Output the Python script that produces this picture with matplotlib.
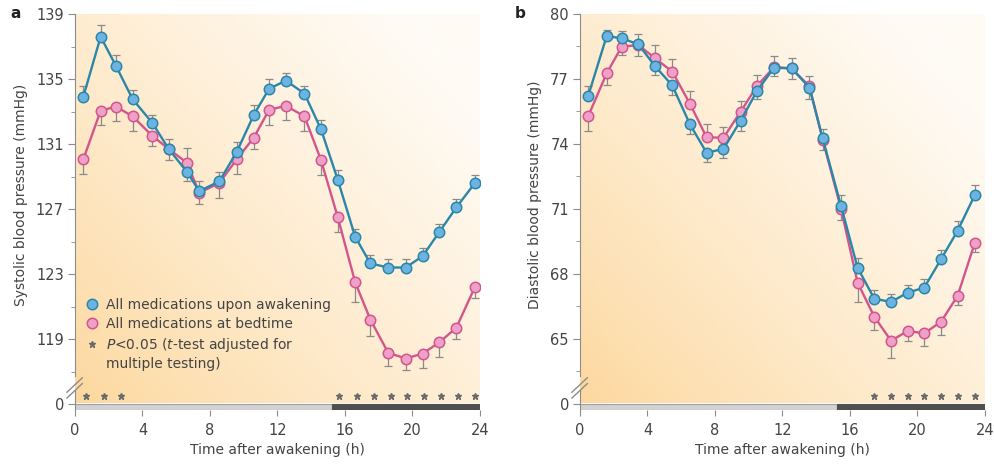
import numpy as np
import matplotlib
matplotlib.use("Agg")
from matplotlib import pyplot as plt
from matplotlib.lines import Line2D

# ---- data ----
time_a = [0.49, 1.52, 2.43, 3.42, 4.58, 5.55, 6.62, 7.37, 8.55, 9.58, 10.6, 11.5,
          12.5, 13.6, 14.58, 15.57, 16.6, 17.5, 18.56, 19.6, 20.6, 21.6, 22.6, 23.7]
sys_awake = [133.9, 137.6, 135.8, 133.75, 132.3, 130.7, 129.3, 128.1, 128.7, 130.5, 132.8, 134.4,
             134.9, 134.1, 131.9, 128.8, 125.3, 123.65, 123.4, 123.4, 124.1, 125.6, 127.1, 128.6]
sys_bed = [130.05, 133.05, 133.3, 132.7, 131.5, 130.7, 129.85, 128.0, 128.6, 130.05, 131.4, 133.1,
           133.35, 132.7, 130.0, 126.5, 122.5, 120.2, 118.15, 117.8, 118.1, 118.8, 119.7, 122.2]
sys_awake_err = [0.7, 0.7, 0.7, 0.6, 0.5, 0.6, 0.6, 0.6, 0.6, 0.6, 0.6, 0.6,
                 0.5, 0.5, 0.6, 0.6, 0.5, 0.5, 0.5, 0.5, 0.5, 0.5, 0.5, 0.5]
sys_bed_err = [0.9, 0.9, 0.9, 0.9, 0.6, 0.7, 0.9, 0.7, 0.9, 0.9, 0.7, 0.9,
               0.9, 0.9, 0.9, 0.9, 1.2, 1.0, 0.8, 0.7, 0.9, 0.9, 0.7, 0.7]
stars_a = [0.65, 1.72, 2.73, 15.66, 16.7, 17.7, 18.7, 19.7, 20.7, 21.7, 22.7, 23.7]

time_b = [0.49, 1.58, 2.47, 3.46, 4.44, 5.47, 6.52, 7.5, 8.5, 9.52, 10.5, 11.5,
          12.54, 13.6, 14.38, 15.47, 16.45, 17.44, 18.43, 19.42, 20.4, 21.4, 22.38, 23.4]
dia_awake = [76.23, 78.98, 78.88, 78.6, 77.6, 76.7, 74.9, 73.6, 73.77, 75.08, 76.46, 77.52,
             77.49, 76.6, 74.26, 71.14, 68.29, 66.86, 66.71, 67.14, 67.37, 68.69, 70.0, 71.65]
dia_bed = [75.29, 77.26, 78.49, 78.57, 77.96, 77.34, 75.85, 74.31, 74.29, 75.49, 76.69, 77.55,
           77.49, 76.66, 74.2, 71.0, 67.6, 66.03, 64.92, 65.37, 65.26, 65.8, 67.0, 69.45]
dia_awake_err = [0.45, 0.3, 0.35, 0.5, 0.4, 0.45, 0.45, 0.45, 0.4, 0.5, 0.4, 0.4,
                 0.5, 0.5, 0.45, 0.5, 0.45, 0.4, 0.35, 0.35, 0.4, 0.4, 0.45, 0.45]
dia_bed_err = [0.7, 0.55, 0.4, 0.5, 0.6, 0.6, 0.6, 0.6, 0.5, 0.5, 0.5, 0.5,
               0.5, 0.5, 0.5, 0.5, 0.9, 0.6, 0.8, 0.45, 0.6, 0.6, 0.45, 0.45]
stars_b = [17.44, 18.43, 19.42, 20.4, 21.4, 22.38, 23.4]

day_end = 15.25
xticks = [0, 4, 8, 12, 16, 20, 24]

BLUE_FILL, BLUE_LINE = "#6db3e2", "#2a87a8"
PINK_FILL, PINK_LINE = "#eea0c8", "#d2558c"
GREY_TXT = "#444444"
AX_COL = "#8c8c8c"

plt.rcParams["font.family"] = ["DejaVu Sans"]
plt.rcParams["font.size"] = 10

W, H = 995, 465
fig = plt.figure(figsize=(W / 100, H / 100), dpi=100)


def fx(px):
    return px / W


def fy(px):
    return 1 - px / H


def gradient_bg(x0):
    bg = fig.add_axes([fx(x0), fy(403), fx(405), (403 - 14) / H], zorder=0)
    gx, gy = np.meshgrid(np.linspace(0, 1, 200), np.linspace(0, 1, 200))
    t = np.clip((gx * 0.9 + gy * 0.8) / 1.5, 0, 1) ** 0.8
    c0 = np.array([253, 215, 156]) / 255
    c1 = np.array([255, 251, 245]) / 255
    img = c0[None, None, :] * (1 - t[..., None]) + c1[None, None, :] * t[..., None]
    bg.imshow(img, origin="lower", aspect="auto", extent=[0, 1, 0, 1])
    bg.set_axis_off()


def panel(x0, t, awake, bed, awake_err, bed_err, stars, ylim, yticks, minor,
          ylabel, letter, legend=False):
    gradient_bg(x0)
    ax = fig.add_axes([fx(x0), fy(376), fx(405), 362 / H], zorder=2)
    ax.patch.set_alpha(0)
    strip = fig.add_axes([fx(x0), fy(410), fx(405), 20 / H], zorder=2)
    strip.patch.set_alpha(0)

    awake = np.array(awake)
    bed = np.array(bed)
    up = awake >= bed
    a_err = [np.where(up, 0, awake_err), np.where(up, awake_err, 0)]
    b_err = [np.where(up, bed_err, 0), np.where(up, 0, bed_err)]

    ax.errorbar(t, bed, yerr=b_err, fmt="none", ecolor="#8a8a8a", elinewidth=0.9,
                capsize=3, capthick=0.9, zorder=3)
    ax.errorbar(t, awake, yerr=a_err, fmt="none", ecolor="#8a8a8a", elinewidth=0.9,
                capsize=3, capthick=0.9, zorder=3)
    ax.plot(t, bed, "-o", color=PINK_LINE, lw=1.7, ms=7.5, mfc=PINK_FILL,
            mec=PINK_LINE, mew=1.1, zorder=4)
    ax.plot(t, awake, "-o", color=BLUE_LINE, lw=1.7, ms=7.5, mfc=BLUE_FILL,
            mec=BLUE_LINE, mew=1.1, zorder=5)

    ax.set_xlim(0, 24)
    ax.set_ylim(*ylim)
    ax.set_yticks(yticks)
    ax.set_yticks(minor, minor=True)
    ax.set_xticks([])
    for s in ["top", "right", "bottom"]:
        ax.spines[s].set_visible(False)
    ax.spines["left"].set_color(AX_COL)
    ax.tick_params(axis="y", which="major", length=5, color=AX_COL, labelcolor=GREY_TXT,
                   labelsize=10.5, pad=3)
    ax.tick_params(axis="y", which="minor", length=3, color=AX_COL)
    ax.set_ylabel(ylabel, color=GREY_TXT, fontsize=10, labelpad=6)
    ax.text(-0.16, 1.0, letter, transform=ax.transAxes, fontsize=11, fontweight="bold",
            va="center", ha="left", color="#222222")

    # axis break marks
    for off in (0.0, 0.016):
        ax.plot([-0.02, 0.018], [-0.045 - off, -0.005 - off], transform=ax.transAxes,
                color=AX_COL, lw=1.0, clip_on=False)

    # day / night bar and significance stars
    strip.barh(-0.5, day_end, left=0, height=1, color="#d2d2d2", edgecolor="#a0a0a0",
               linewidth=0.8)
    strip.barh(-0.5, 24 - day_end, left=day_end, height=1, color="#4f4f4f",
               edgecolor="#4f4f4f", linewidth=0.8)
    strip.plot(stars, [1.3] * len(stars), ls="", marker="*", ms=4.5, color="#6a6a6a")
    strip.set_xlim(0, 24)
    strip.set_ylim(-1, 2.333)
    strip.set_yticks([0])
    strip.set_xticks(xticks)
    for s in ["top", "right", "bottom"]:
        strip.spines[s].set_visible(False)
    strip.spines["left"].set_color(AX_COL)
    strip.tick_params(axis="y", length=5, color=AX_COL, labelcolor=GREY_TXT,
                      labelsize=10.5, pad=3)
    strip.tick_params(axis="x", length=4, color=AX_COL, labelcolor=GREY_TXT,
                      labelsize=10.5, pad=5)
    strip.set_xlabel("Time after awakening (h)", color=GREY_TXT, fontsize=10, labelpad=4)

    if legend:
        handles = [
            Line2D([], [], ls="", marker="o", ms=7.5, mfc=BLUE_FILL, mec=BLUE_LINE, mew=1.1),
            Line2D([], [], ls="", marker="o", ms=7.5, mfc=PINK_FILL, mec=PINK_LINE, mew=1.1),
            Line2D([], [], ls="", marker="*", ms=4.5, color="#6a6a6a"),
        ]
        labels = ["All medications upon awakening", "All medications at bedtime",
                  "$\\it{P}$<0.05 ($\\it{t}$-test adjusted for"]
        leg = ax.legend(handles, labels, loc="upper left", bbox_to_anchor=(0.025, 0.215),
                        frameon=False, borderpad=0, borderaxespad=0, handlelength=1.0,
                        handletextpad=0.5, labelspacing=0.35, fontsize=10)
        for txt in leg.get_texts():
            txt.set_color(GREY_TXT)
        ax.annotate("multiple testing)", xy=(0, 0), xycoords=leg.get_texts()[2],
                    xytext=(0, -2), textcoords="offset points", ha="left", va="top",
                    fontsize=10, color=GREY_TXT, zorder=10)
    return ax


panel(75, time_a, sys_awake, sys_bed, sys_awake_err, sys_bed_err, stars_a,
      (139 - 362 / 16.25, 139), [119, 123, 127, 131, 135, 139],
      [117, 121, 125, 129, 133, 137], "Systolic blood pressure (mmHg)", "a", legend=True)
panel(580, time_b, dia_awake, dia_bed, dia_awake_err, dia_bed_err, stars_b,
      (80 - 362 * 3 / 65, 80), [65, 68, 71, 74, 77, 80],
      [63.5, 66.5, 69.5, 72.5, 75.5, 78.5], "Diastolic blood pressure (mmHg)", "b")

fig.savefig("out.png", dpi=100)
